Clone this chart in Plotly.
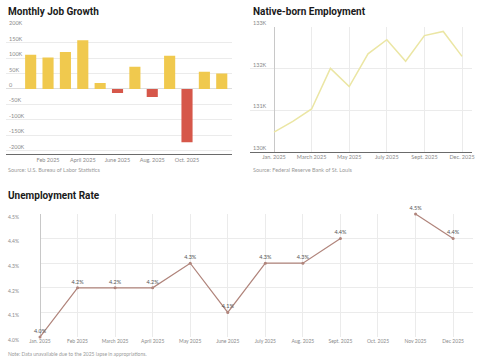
import plotly.graph_objects as go

# ---------------- data ----------------
job_months = ["Jan 2025", "Feb 2025", "March 2025", "April 2025", "May 2025", "June 2025",
              "July 2025", "Aug. 2025", "Sept. 2025", "Oct. 2025", "Nov 2025", "Dec 2025"]
job_growth_k = [111, 102, 120, 158, 19, -13, 72, -26, 108, -173, 56, 50]
job_tick_idx = [1, 3, 5, 7, 9]
job_tick_text = ["Feb 2025", "April 2025", "June 2025", "Aug. 2025", "Oct. 2025"]
job_y_ticks = [200, 150, 100, 50, 0, -50, -100, -150, -200]
job_y_text = ["200K", "150K", "100K", "50K", "0", "-50K", "-100K", "-150K", "-200K"]

native_months = ["Jan. 2025", "Feb 2025", "March 2025", "April 2025", "May 2025", "June 2025",
                 "July 2025", "Aug. 2025", "Sept. 2025", "Nov 2025", "Dec. 2025"]
native_emp = [130.47, 130.73, 131.03, 132.01, 131.57, 132.36, 132.70, 132.18, 132.80, 132.90, 132.30]
native_tick_idx = [0, 2, 4, 6, 8, 10]
native_tick_text = ["Jan. 2025", "March 2025", "May 2025", "July 2025", "Sept. 2025", "Dec. 2025"]
native_y_ticks = [130, 131, 132, 133]
native_y_text = ["130K", "131K", "132K", "133K"]

unemp_months = ["Jan. 2025", "Feb 2025", "March 2025", "April 2025", "May 2025", "June 2025",
                "July 2025", "Aug. 2025", "Sept. 2025", "Oct. 2025", "Nov 2025", "Dec 2025"]
unemp_rate = [4.0, 4.2, 4.2, 4.2, 4.3, 4.1, 4.3, 4.3, 4.4, None, 4.5, 4.4]
unemp_y_ticks = [4.0, 4.1, 4.2, 4.3, 4.4, 4.5]
unemp_y_text = ["4.0%", "4.1%", "4.2%", "4.3%", "4.4%", "4.5%"]

# ---------------- styling ----------------
W, H = 485, 360
def px_x(x): return x / W
def px_y(y): return 1 - y / H

YELLOW = "#f0c94e"
RED = "#d6574a"
PALE = "#ebe6a4"
BROWN = "#b0847b"
GRID = "#ebebeb"
TICK = "#8a8a8a"
TFONT = "Lato, Roboto, Arial"
HFONT = "Roboto, Lato, Arial"

fig = go.Figure()

# Monthly job growth bars
fig.add_trace(go.Bar(
    x=list(range(len(job_growth_k))), y=job_growth_k,
    marker_color=[YELLOW if v >= 0 else RED for v in job_growth_k],
    marker_line_width=0, width=0.64,
    xaxis="x", yaxis="y", hoverinfo="skip", showlegend=False))

# Native-born employment line
fig.add_trace(go.Scatter(
    x=list(range(len(native_emp))), y=native_emp, mode="lines",
    line=dict(color=PALE, width=1.5),
    xaxis="x2", yaxis="y2", hoverinfo="skip", showlegend=False))

# Unemployment rate line
fig.add_trace(go.Scatter(
    x=list(range(len(unemp_rate))), y=unemp_rate, mode="lines+markers+text",
    line=dict(color=BROWN, width=1.2),
    marker=dict(color=BROWN, size=3),
    text=[("%.1f%%" % v) if v is not None else "" for v in unemp_rate],
    textposition="top center",
    textfont=dict(family=TFONT, size=5.5, color="#555"),
    cliponaxis=False, connectgaps=False,
    xaxis="x3", yaxis="y3", hoverinfo="skip", showlegend=False))

tickfont = dict(family=TFONT, size=5.5, color=TICK)

fig.update_layout(
    width=W, height=H,
    margin=dict(l=0, r=0, t=0, b=0, autoexpand=False),
    paper_bgcolor="white", plot_bgcolor="white",
    bargap=0.36,
    xaxis=dict(domain=[px_x(6), px_x(232)], range=[-1.42, 11.59], automargin=False,
               tickvals=job_tick_idx, ticktext=job_tick_text, tickfont=tickfont,
               showgrid=False, zeroline=False, showline=True, linecolor="#6b6b6b",
               linewidth=1, ticks="", anchor="y", fixedrange=True),
    yaxis=dict(domain=[px_y(154), px_y(27.3)], range=[-211, 200], automargin=False,
               tickvals=job_y_ticks, ticktext=job_y_text, tickfont=tickfont,
               ticklabelposition="inside top", ticklabeloverflow="allow",
               showgrid=True, gridcolor=GRID, gridwidth=1, zeroline=True,
               zerolinecolor="#dddddd", zerolinewidth=1, ticks="", anchor="x"),
    xaxis2=dict(domain=[px_x(250), px_x(472)], range=[-1.277, 10.53], automargin=False,
                tickvals=native_tick_idx, ticktext=native_tick_text, tickfont=tickfont,
                showgrid=True, gridcolor=GRID, gridwidth=1,
                zeroline=True, zerolinecolor="#c8c8c8", zerolinewidth=1,
                showline=True, linecolor="#6b6b6b", linewidth=1, ticks="", anchor="y2"),
    yaxis2=dict(domain=[px_y(151.7), px_y(27.3)], range=[130, 133], automargin=False,
                tickvals=native_y_ticks, ticktext=native_y_text, tickfont=tickfont,
                ticklabelposition="inside top", ticklabeloverflow="allow",
                showgrid=True, gridcolor=GRID, gridwidth=1, zeroline=False,
                ticks="", anchor="x2"),
    xaxis3=dict(domain=[px_x(40), px_x(473)], range=[0, 11.53], automargin=False,
                tickvals=list(range(len(unemp_months))), ticktext=unemp_months,
                tickfont=dict(family=TFONT, size=5, color=TICK),
                showgrid=True, gridcolor=GRID, gridwidth=1,
                zeroline=True, zerolinecolor="#c8c8c8", zerolinewidth=1,
                showline=False, ticks="", anchor="y3"),
    yaxis3=dict(domain=[px_y(337), px_y(214)], range=[4.0, 4.5], automargin=False,
                tickvals=unemp_y_ticks, ticktext=unemp_y_text,
                tickfont=dict(family=TFONT, size=5, color=TICK),
                ticklabelstandoff=20, ticklabelshift=3,
                showgrid=True, gridcolor=GRID, gridwidth=1, zeroline=False,
                ticks="", anchor="x3"),
)

def txt(x, y, s, size, color, bold=False, family=HFONT):
    fig.add_annotation(x=px_x(x), y=px_y(y), xref="paper", yref="paper",
                       text=("<b>%s</b>" % s) if bold else s, showarrow=False,
                       xanchor="left", yanchor="middle",
                       font=dict(family=family, size=size, color=color))

txt(6, 11, "Monthly Job Growth", 10, "#1a1a1a", bold=True)
txt(251, 11, "Native-born Employment", 10, "#1a1a1a", bold=True)
txt(6, 195, "Unemployment Rate", 10, "#1a1a1a", bold=True)
txt(6, 170, "Source: U.S. Bureau of Labor Statistics", 5.5, "#9a9a9a", family=TFONT)
txt(251, 170, "Source: Federal Reserve Bank of St. Louis", 5.5, "#9a9a9a", family=TFONT)
txt(6, 354, "Note: Data unavailable due to the 2025 lapse in appropriations.", 5, "#9a9a9a", family=TFONT)

fig.write_html("out.html",
               config={"displayModeBar": False, "staticPlot": True},
               post_script="document.body.style.margin='0';document.body.style.overflow='hidden';")
